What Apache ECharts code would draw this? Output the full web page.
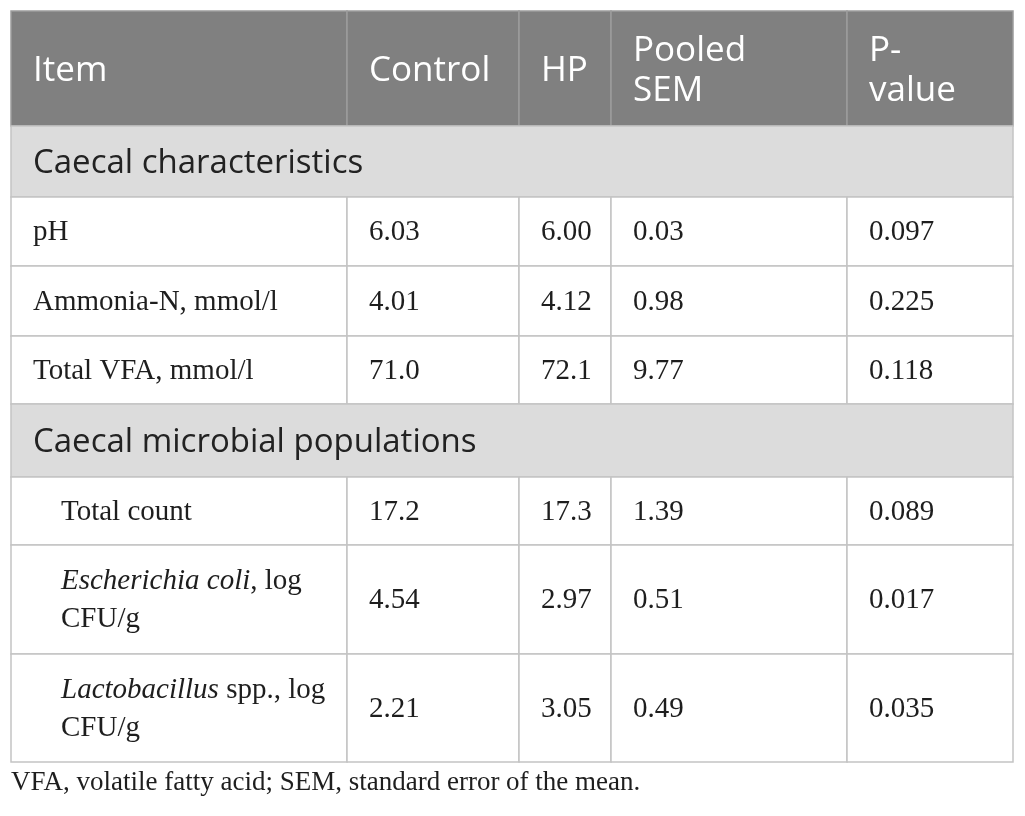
<!DOCTYPE html>
<html>
<head>
<meta charset="utf-8">
<script src="https://cdn.jsdelivr.net/npm/echarts@6/dist/echarts.min.js"></script>
<style>
  html, body { margin: 0; padding: 0; background: #fff; }
  #main { width: 1025px; height: 816px; }
</style>
</head>
<body>
<div id="main"></div>
<script>
// table content
var headers = ['Item', 'Control', 'HP', 'Pooled\nSEM', 'P-\nvalue'];
var sections = ['Caecal characteristics', 'Caecal microbial populations'];
var items = ['pH', 'Ammonia-N, mmol/l', 'Total VFA, mmol/l', 'Total count',
  '{i|Escherichia coli}, log\nCFU/g', '{i|Lactobacillus} spp., log\nCFU/g'];
var indented = [false, false, false, true, true, true];
var control = ['6.03', '4.01', '71.0', '17.2', '4.54', '2.21'];
var hp = ['6.00', '4.12', '72.1', '17.3', '2.97', '3.05'];
var sem = ['0.03', '0.98', '9.77', '1.39', '0.51', '0.49'];
var pValue = ['0.097', '0.225', '0.118', '0.089', '0.017', '0.035'];
var footnote = 'VFA, volatile fatty acid; SEM, standard error of the mean.';

// layout (axis units = pixels inside the grid)
var colEdges = [0, 336, 508, 600, 836, 1002];
var rowEdges = [0, 115, 186, 255, 325, 393, 466, 534, 643, 751];

var myChart = echarts.init(document.getElementById('main'));

// cells: [col0, col1, row, kind, text, indent]
var cells = [];
headers.forEach(function (h, c) { cells.push([c, c + 1, 0, 'head', h, 0]); });
var r = 1, k = 0;
sections.forEach(function (s) {
  cells.push([0, 5, r, 'section', s, 0]);
  r++;
  for (var j = 0; j < 3; j++, k++, r++) {
    cells.push([0, 1, r, 'body', items[k], indented[k] ? 28 : 0]);
    cells.push([1, 2, r, 'body', control[k], 0]);
    cells.push([2, 3, r, 'body', hp[k], 0]);
    cells.push([3, 4, r, 'body', sem[k], 0]);
    cells.push([4, 5, r, 'body', pValue[k], 0]);
  }
});

var styles = {
  head: { fill: '#808080', stroke: '#9c9c9c', color: '#ffffff', font: '"Open Sans", sans-serif', size: 35, lh: 40, dy: 3 },
  section: { fill: '#dcdcdc', stroke: '#c4c4c4', color: '#222222', font: '"Open Sans", sans-serif', size: 33, lh: 40, dy: 2 },
  body: { fill: '#ffffff', stroke: '#c4c4c4', color: '#1e1e1e', font: '"Liberation Serif", "Times New Roman", serif', size: 29, lh: 38, dy: 1 }
};

function renderCell(params, api) {
  var c0 = api.value(0), c1 = api.value(1), row = api.value(2);
  var cell = cells[params.dataIndex];
  var st = styles[cell[3]];
  var p0 = api.coord([colEdges[c0], rowEdges[row]]);
  var p1 = api.coord([colEdges[c1], rowEdges[row + 1]]);
  return {
    type: 'group',
    children: [{
      type: 'rect',
      shape: { x: p0[0], y: p0[1], width: p1[0] - p0[0], height: p1[1] - p0[1] },
      style: { fill: st.fill, stroke: st.stroke, lineWidth: 1.5 }
    }, {
      type: 'text',
      x: p0[0] + 22 + cell[5],
      y: (p0[1] + p1[1]) / 2 + st.dy,
      style: {
        text: cell[4],
        fill: st.color,
        fontFamily: st.font,
        fontSize: st.size,
        lineHeight: st.lh,
        verticalAlign: 'middle',
        align: 'left',
        rich: { i: { fontStyle: 'italic', fontFamily: st.font, fontSize: st.size, lineHeight: st.lh, fill: st.color } }
      }
    }]
  };
}

option = {
  animation: false,
  title: {
    text: footnote,
    left: 6,
    top: 764,
    textStyle: { fontFamily: '"Liberation Serif", serif', fontSize: 27, fontWeight: 'normal', color: '#1e1e1e' }
  },
  grid: { left: 11, top: 11, width: 1002, height: 751 },
  xAxis: { type: 'value', min: 0, max: 1002, show: false },
  yAxis: { type: 'value', min: 0, max: 751, inverse: true, show: false },
  series: [{
    type: 'custom',
    renderItem: renderCell,
    encode: { x: [0, 1], y: 2 },
    data: cells.map(function (c) { return [c[0], c[1], c[2]]; })
  }]
};

myChart.setOption(option);
</script>
</body>
</html>
